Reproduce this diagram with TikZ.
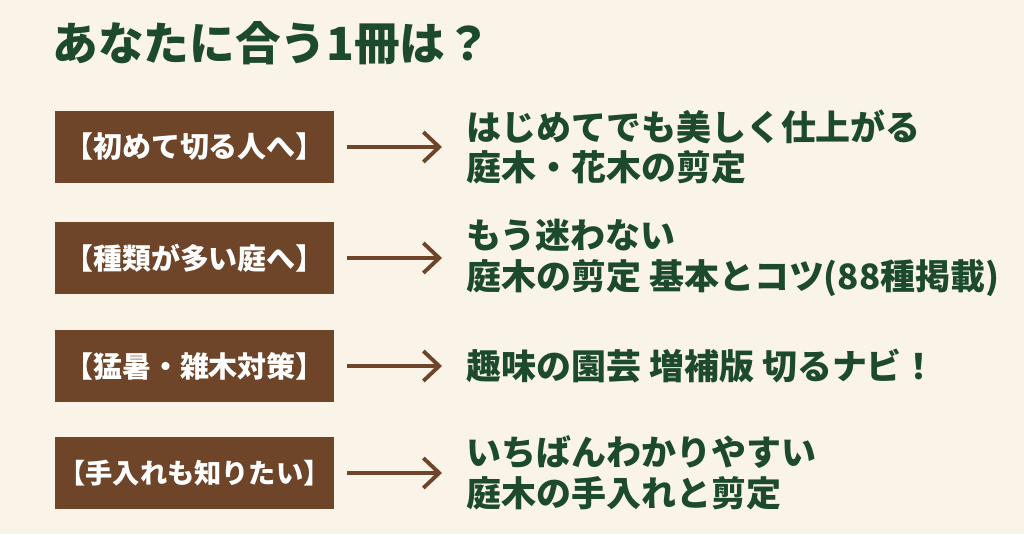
\documentclass[tikz,border=0pt]{standalone}
\usepackage{fontspec}
\setmainfont{Noto Sans CJK JP}
\usetikzlibrary{arrows.meta, positioning}

\definecolor{paper}{HTML}{FAF4E8}
\definecolor{bark}{HTML}{6E4528}
\definecolor{leaf}{HTML}{1D4A2F}

\begin{document}
\begin{tikzpicture}[
    x=0.02cm, y=-0.02cm,
    title/.style={
        anchor=west, inner sep=0pt, text=leaf,
        font=\fontsize{26pt}{30pt}\selectfont\bfseries
    },
    tag/.style={
        rectangle, fill=bark, text=white, inner xsep=0pt,
        minimum width=5.58cm, minimum height=1.44cm,
        font=\fontsize{16.5pt}{19pt}\selectfont\bfseries, align=center
    },
    book/.style={
        anchor=west, inner sep=0pt, text=leaf, align=left,
        font=\fontsize{19.9pt}{23pt}\selectfont\bfseries
    },
    arr/.style={-{Straight Barb[length=9pt, width=17pt, line width=2.2pt]}, line width=2.2pt, draw=bark,
        shorten <=0.26cm, shorten >=0.48cm}
]
% background and page size
\fill[paper] (0,0) rectangle (1024,534);

\node[title] (head) at (52,43) {あなたに合う1冊は？};

% left tags
\node[tag] (tag1) at (194.5,147) {【初めて切る人へ】};
\node[tag] (tag2) at (194.5,258) {【種類が多い庭へ】};
\node[tag] (tag3) at (194.5,366) {【猛暑・雑木対策】};
\node[tag, font=\fontsize{15.5pt}{19pt}\selectfont\bfseries] (tag4) at (194.5,473) {【手入れも知りたい】};

% book titles
\node[book] (book1) at (466,147) {はじめてでも美しく仕上がる\\庭木・花木の剪定};
\node[book] (book2) at (466,258) {もう迷わない\\庭木の剪定 基本とコツ(88種掲載)};
\node[book] (book3) at (466,366) {趣味の園芸 増補版 切るナビ！};
\node[book] (book4) at (466,473) {いちばんわかりやすい\\庭木の手入れと剪定};

\draw[arr] (tag1) -- (book1);
\draw[arr] (tag2) -- (book2);
\draw[arr] (tag3) -- (book3);
\draw[arr] (tag4) -- (book4);

\end{tikzpicture}
\end{document}
